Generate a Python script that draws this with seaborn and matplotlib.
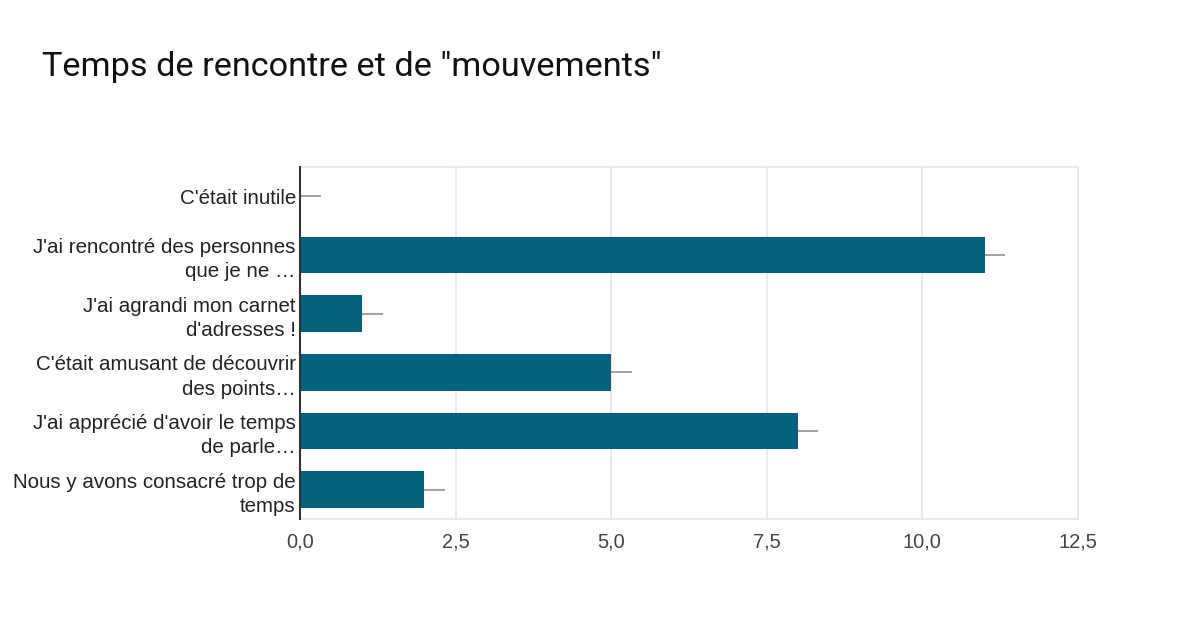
import matplotlib
matplotlib.use("Agg")
import matplotlib.pyplot as plt
import seaborn as sns
import pandas as pd

categories = [
    "C'était inutile",
    "J'ai rencontré des personnes\nque je ne …",
    "J'ai agrandi mon carnet\nd'adresses !",
    "C'était amusant de découvrir\ndes points…",
    "J'ai apprécié d'avoir le temps\nde parle…",
    "Nous y avons consacré trop de\ntemps",
]
valeurs = [0, 11, 1, 5, 8, 2]
ticks = [0, 2.5, 5, 7.5, 10, 12.5]

df = pd.DataFrame({"reponse": categories, "nombre": valeurs})

sns.set_style("white")
plt.rcParams["font.family"] = ["Roboto", "DejaVu Sans"]

fig = plt.figure(figsize=(11.99, 6.22), dpi=100)
ax = fig.add_axes([0.2502, 0.1656, 0.6489, 0.5659])

sns.barplot(data=df, y="reponse", x="nombre", orient="h", color="#05627f",
            width=0.62, saturation=1, linewidth=0, ax=ax, zorder=3)

# petits traits gris a droite des barres
ax.hlines(y=range(len(valeurs)), xmin=valeurs, xmax=[v + 0.33 for v in valeurs],
          color="#999999", linewidth=1.3, zorder=4)

ax.set_xlim(0, 12.5)
ax.set_ylim(len(valeurs) - 0.5, -0.5)
ax.set_xticks(ticks)
ax.set_xticklabels([f"{t:.1f}".replace(".", ",") for t in ticks])
ax.tick_params(axis="y", length=0, pad=3)
ax.tick_params(axis="x", length=0, pad=10)
for lbl in ax.get_xticklabels():
    lbl.set_family(["Liberation Sans", "DejaVu Sans"])
    lbl.set_fontsize(14.4)
    lbl.set_color("#444444")
for lbl in ax.get_yticklabels():
    lbl.set_horizontalalignment("right")
    lbl.set_multialignment("right")
    lbl.set_family(["Liberation Sans", "DejaVu Sans"])
    lbl.set_fontsize(14.8)
    lbl.set_color("#222222")
    lbl.set_linespacing(1.35)
ax.set_xlabel("")
ax.set_ylabel("")
ax.grid(axis="x", color="#e8e8e8", linewidth=1.2, zorder=0)

for s in ["top", "right", "bottom"]:
    ax.spines[s].set_color("#e6e6e6")
    ax.spines[s].set_linewidth(1.2)
ax.spines["left"].set_color("#333333")
ax.spines["left"].set_linewidth(1.5)
ax.spines["left"].set_zorder(5)

fig.text(0.035, 0.893, 'Temps de rencontre et de "mouvements"', fontsize=24.7,
         color="#111111", ha="left", va="center")

fig.savefig("out.png", dpi=100, facecolor="white")
